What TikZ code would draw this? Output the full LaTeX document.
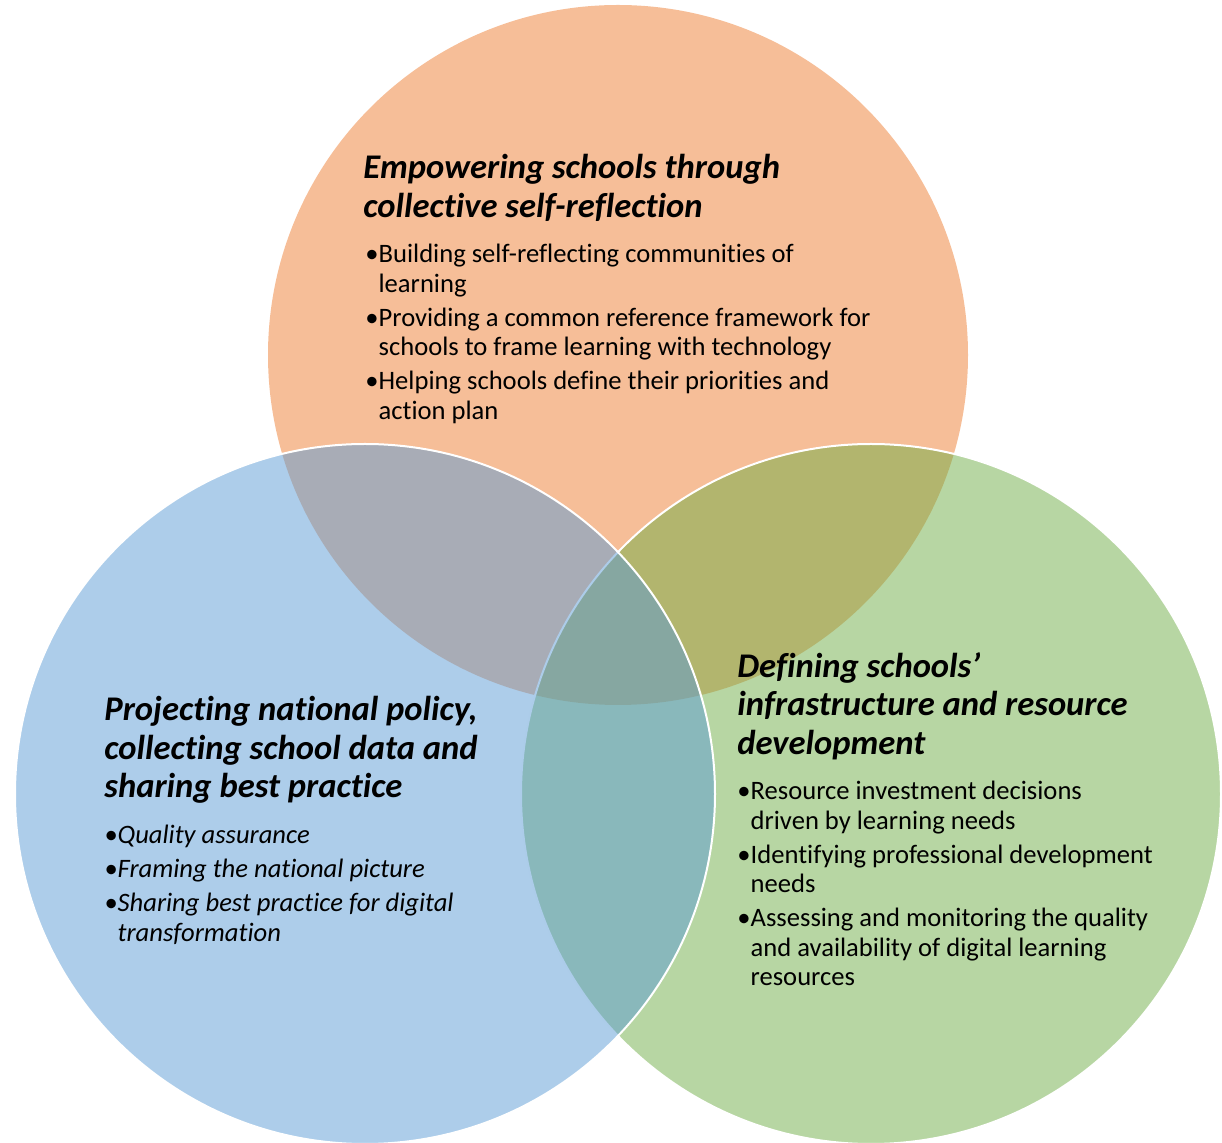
\documentclass[tikz,border=0pt]{standalone}
\usepackage{fontspec}
\setmainfont{Carlito}[Ligatures={TeX,NoCommon}]
\usepackage{tikz}

\definecolor{vennorange}{HTML}{ED7D31}
\definecolor{venngreen}{HTML}{70AD47}
\definecolor{vennblue}{HTML}{5B9BD5}
\newcommand{\hdfont}{\fontsize{17.3}{19.25}\selectfont\bfseries\itshape}
\newcommand{\bodyfont}{\fontsize{13.3}{14.75}\selectfont}
\newcommand{\bulind}{\phantom{•}}

\begin{document}
\begin{tikzpicture}[x=0.5pt,y=-0.5pt,
    venn/.style={fill opacity=0.5,draw opacity=1,line width=1pt},
    heading/.style={anchor=north west,inner sep=0pt,align=left,font=\hdfont},
    items/.style={anchor=north west,inner sep=0pt,align=left,font=\bodyfont}]
  \useasboundingbox (0,0) rectangle (1222,1143);

  % Circles (blue goes last so it lies on top)
  \fill[venn,fill=vennorange] (618,355) circle (175pt);
  \filldraw[venn,fill=venngreen,draw=white] (871,794) circle (175pt);
  \filldraw[venn,fill=vennblue,draw=white] (365,794) circle (175pt);

  % Top circle
  \node[heading] (reflect) at (363,154) {Empowering schools through\\collective self-reflection};
  \node[items] (reflectlist) at (365,244) {•Building self-reflecting communities of\\\bulind learning\\[2.25pt]%
    •Providing a common reference framework for\\\bulind schools to frame learning with technology\\[2.25pt]%
    •Helping schools define their priorities and\\\bulind action plan};

  % Left circle
  \node[heading] (policy) at (104,696) {Projecting national policy,\\collecting school data and\\sharing best practice};
  \node[items,font=\bodyfont\itshape] (policylist) at (104,825) {•Quality assurance\\[2.25pt]%
    •Framing the national picture\\[2.25pt]%
    •Sharing best practice for digital\\\bulind transformation};

  % Right circle
  \node[heading] (infra) at (737,652) {Defining schools’\\infrastructure and resource\\development};
  \node[items] (infralist) at (737,781) {•Resource investment decisions\\\bulind driven by learning needs\\[2.25pt]%
    •Identifying professional development\\\bulind needs\\[2.25pt]%
    •Assessing and monitoring the quality\\\bulind and availability of digital learning\\\bulind resources};
\end{tikzpicture}
\end{document}
